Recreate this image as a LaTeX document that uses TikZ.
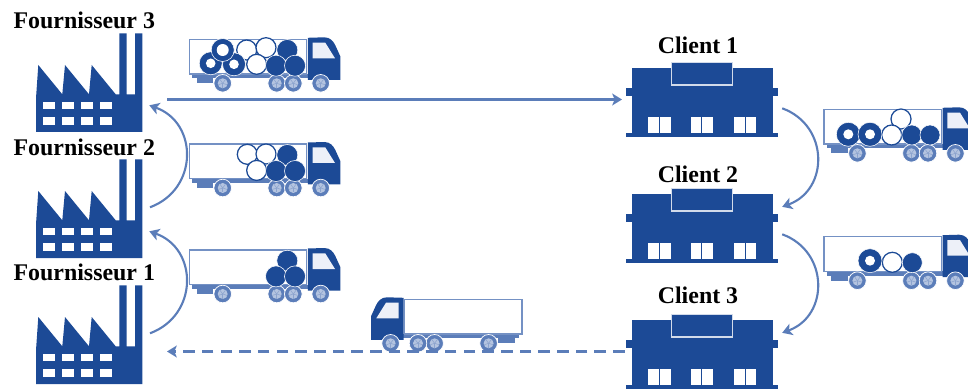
\documentclass[tikz,border=0pt]{standalone}
\usepackage{fontspec}
\setmainfont{Liberation Serif}
\usetikzlibrary{arrows.meta}
\definecolor{navy}{HTML}{1C4A96}
\definecolor{flowblue}{HTML}{5B7DB9}
\definecolor{palewheel}{HTML}{B4C4E0}
\definecolor{paleglass}{HTML}{EDF0F8}
\tikzset{
	flow/.style={->, flowblue, line width=1.5pt},
	site/.style={anchor=base, font=\bfseries\fontsize{17}{20}\selectfont},
	solidroll/.style={fill=navy, draw=white, line width=0.4pt},
	hollowroll/.style={fill=white, draw=navy, line width=0.9pt},
	factoryicon/.pic={
		\fill[navy] (0,98.7) -- (0,65) -- (2.3,31.7) -- (26.3,61) -- (29,31.7) -- (53,61) -- (55.7,31.7) -- (79.7,61) -- (83.3,61) -- (83.3,0) -- (90.7,0) -- (90.7,61) -- (99,61) -- (99,0) -- (106.3,0) -- (106.3,98.7) -- cycle;
		\foreach \wx in {7.3,26.3,45,64}
			\foreach \wy in {68.4,84}
				\fill[white] (\wx,\wy) rectangle ++(11.7,7.5);
		\coordinate (-arcin) at (113.3,72);
		\coordinate (-arcout) at (114,48);
		\coordinate (-line) at (131,66.2);
	},
	depoticon/.pic={
		\fill[navy] (6,6) rectangle (147,72);
		\fill[navy] (0,26) rectangle (152.6,33.7);
		\fill[navy] (0,71) rectangle (152.6,74.4);
		\draw[navy!20, fill=navy, line width=0.8pt] (46,22.7) -- (46,0) -- (106.6,0) -- (106.6,22.7) -- cycle;
		\foreach \wx in {22.6,65,108.3} {
			\fill[white] (\wx,54.4) rectangle ++(22.4,16.6);
			\draw[navy, line width=0.7pt] (\wx+11.2,54.4) -- (\wx+11.2,71);
		}
		\coordinate (-arcin) at (156.5,18.5);
		\coordinate (-arcout) at (156.5,46);
		\coordinate (-line) at (-3.7,37.2);
		\coordinate (-dash) at (-1,37.2);
	},
	truckicon/.pic={
		\fill[flowblue] (3,34.7) rectangle (119,39);
		\fill[flowblue] (7.4,39) rectangle (24,44);
		\draw[flowblue!85, fill=white, line width=0.9pt] (0,0) rectangle (117.4,34.7);
		\fill[navy] (118.5,40.5) -- (118.5,-1.5) -- (135,-2) .. controls (141,-2) and (144,2) .. (146,6) -- (151,17) -- (151,40.5) -- cycle;
		\fill[paleglass] (123.4,3.4) -- (136,3.4) -- (145.7,19) -- (123.4,19) -- cycle;
		\foreach \wx in {33.4,87.4,104,131.4} {
			\fill[flowblue, draw=white, line width=0.5pt] (\wx,44) circle[radius=8.8];
			\fill[palewheel] (\wx,44) circle[radius=5];
			\foreach \sp in {90,162,234,306,18}
				\draw[flowblue!70, line width=0.4pt] (\wx,44) -- ++(\sp:4.5);
		}
	},
}
\begin{document}
\begin{tikzpicture}[x=0.25mm, y=-0.25mm, >={Stealth[length=7pt, width=8.5pt, inset=1.8pt]}]
	\path[use as bounding box, clip] (0,0) rectangle (968,390);
	\pic (f3) at (36,33.3) {factoryicon};
	\pic (f2) at (36,159.3) {factoryicon};
	\pic (f1) at (36,285.3) {factoryicon};
	\pic (c1) at (625.7,62.3) {depoticon};
	\pic (c2) at (625.7,188.3) {depoticon};
	\pic (c3) at (625.7,314.3) {depoticon};
	\node[site, anchor=base west, inner sep=0pt] (f3label) at (13.3,28.3) {Fournisseur 3};
	\node[site, anchor=base west, inner sep=0pt] (f2label) at (13.3,155.7) {Fournisseur 2};
	\node[site, anchor=base west, inner sep=0pt] (f1label) at (13.3,280.7) {Fournisseur 1};
	\node[site] (c1label) at (698,54) {Client 1};
	\node[site] (c2label) at (698,182.7) {Client 2};
	\node[site] (c3label) at (698,303) {Client 3};
	\begin{scope}[shift={(189.3,39.3)}]
		\pic {truckicon};
		\foreach \a/\b in {57.4/10.7,76.7/8.4,67.4/25}
			\draw[hollowroll] (\a,\b) circle[radius=10];
		\foreach \a/\b in {98/10.7,86.7/26.4,105.7/26.4}
			\draw[solidroll] (\a,\b) circle[radius=10.5];
		\foreach \a/\b in {21.4/24,44.7/25,33.4/10.7}
			\draw[solidroll] (\a,\b) circle[radius=11.5];
		\foreach \a/\b/\h in {21.4/24/4.8,44.7/25/4.8,33.4/10.7/6}
			\fill[white] (\a,\b) circle[radius=\h];
	\end{scope}
	\begin{scope}[shift={(189.3,144)}]
		\pic {truckicon};
		\foreach \a/\b in {58/10.3,76.7/10,67.4/26.4}
			\draw[hollowroll] (\a,\b) circle[radius=10];
		\foreach \a/\b in {98/11,86.7/27,105.7/27}
			\draw[solidroll] (\a,\b) circle[radius=10.5];
	\end{scope}
	\begin{scope}[shift={(189.3,250)}]
		\pic {truckicon};
		\foreach \a/\b in {98/10.7,86.7/26.4,105.7/26.4}
			\draw[solidroll] (\a,\b) circle[radius=10.5];
	\end{scope}
	\begin{scope}[shift={(824,109.3)}]
		\pic {truckicon};
		\foreach \a/\b in {77/9.7,67.7/25.7}
			\draw[hollowroll] (\a,\b) circle[radius=10];
		\foreach \a/\b in {87.7/25.7,106/25.7}
			\draw[solidroll] (\a,\b) circle[radius=10];
		\foreach \a/\b in {24.3/25,46/25} {
			\draw[solidroll] (\a,\b) circle[radius=12];
			\fill[white] (\a,\b) circle[radius=5];
		}
	\end{scope}
	\begin{scope}[shift={(824,236.7)}]
		\pic {truckicon};
		\draw[hollowroll] (68.3,25.6) circle[radius=10];
		\draw[solidroll] (88.3,26) circle[radius=10];
		\draw[solidroll] (46,24) circle[radius=12];
		\fill[white] (46,24) circle[radius=5];
	\end{scope}
	\pic[xscale=-1] at (522,299.3) {truckicon};
	\draw[flow] (f3-line) -- (c1-line);
	\draw[flow, dashed, dash pattern=on 8.2pt off 5.1pt] (c3-dash) -- (f1-line);
	\draw[flow] (f2-arcout) to[bend right=70, looseness=1.3] (f3-arcin);
	\draw[flow] (f1-arcout) to[bend right=70, looseness=1.3] (f2-arcin);
	\draw[flow] (c1-arcout) to[bend left=70, looseness=1.3] (c2-arcin);
	\draw[flow] (c2-arcout) to[bend left=70, looseness=1.3] (c3-arcin);
\end{tikzpicture}
\end{document}
